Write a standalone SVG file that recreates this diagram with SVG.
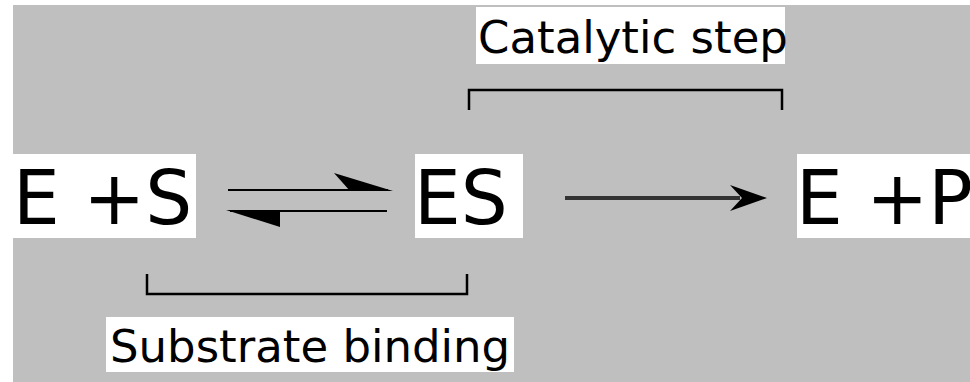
<svg xmlns="http://www.w3.org/2000/svg" width="970" height="382" viewBox="0 0 970 382">
<style>
.box{fill:#ffffff}
.big{font-family:"DejaVu Sans",sans-serif;font-size:74px;fill:#000}
.lbl{font-family:"DejaVu Sans",sans-serif;font-size:45px;fill:#000}
.br{fill:none;stroke:#000;stroke-width:2.5}
</style>
<rect x="0" y="0" width="970" height="382" fill="#ffffff"/>
<rect x="13" y="5" width="957" height="377" fill="#bfbfbf"/>
<g id="node-ES-reactants">
<rect class="box" x="13" y="154" width="183" height="84"/>
<text class="big" x="13" y="224" xml:space="preserve">E +S</text>
</g>
<g id="node-ES">
<rect class="box" x="415" y="154" width="108" height="84"/>
<text class="big" x="414" y="224">ES</text>
</g>
<g id="node-EP">
<rect class="box" x="797" y="154" width="173" height="84"/>
<text class="big" x="796" y="224" xml:space="preserve">E +P</text>
</g>
<g id="label-catalytic">
<rect class="box" x="476" y="7" width="309" height="57"/>
<text class="lbl" x="478" y="53">Catalytic step</text>
</g>
<g id="label-substrate">
<rect class="box" x="106" y="317" width="408" height="55"/>
<text class="lbl" x="110" y="362">Substrate binding</text>
</g>
<g id="connectors">
<line x1="228" y1="190" x2="388" y2="190" stroke="#000" stroke-width="2"/>
<polygon points="334,173 393,191 350,191" fill="#000"/>
<line x1="387" y1="211" x2="230" y2="211" stroke="#000" stroke-width="2"/>
<polygon points="226,210 280,210 280,227" fill="#000"/>
<line x1="565" y1="198" x2="740" y2="198" stroke="#333" stroke-width="4"/>
<path d="M730,185 L767,198 L730,211 L742,198 Z" fill="#000"/>
<path class="br" d="M469,110 V90 H782 V110"/>
<path class="br" d="M147,274 V294 H467 V274"/>
</g>
</svg>
